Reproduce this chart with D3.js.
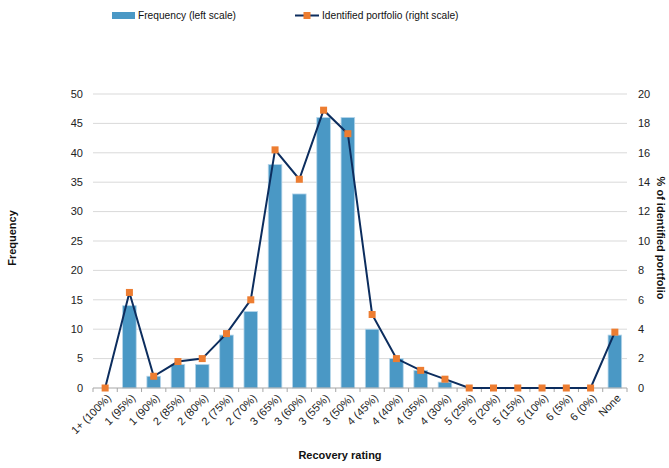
<!DOCTYPE html>
<html><head><meta charset="utf-8">
<script src="https://cdn.jsdelivr.net/npm/d3@7/dist/d3.min.js"></script>
<style>
html,body{margin:0;padding:0;background:#fff;}
svg{display:block;font-family:"Liberation Sans",Arial,sans-serif;}
</style></head>
<body>
<script>
const categories = ["1+ (100%)","1 (95%)","1 (90%)","2 (85%)","2 (80%)","2 (75%)","2 (70%)","3 (65%)","3 (60%)","3 (55%)","3 (50%)","4 (45%)","4 (40%)","4 (35%)","4 (30%)","5 (25%)","5 (20%)","5 (15%)","5 (10%)","6 (5%)","6 (0%)","None"];
const frequency = [0,14,2,4,4,9,13,38,33,46,46,10,5,3,1,0,0,0,0,0,0,9];
const portfolioPct = [0,6.5,0.8,1.8,2.0,3.7,6.0,16.2,14.2,18.9,17.3,5.0,2.0,1.2,0.6,0,0,0,0,0,0,3.8];
const leftTicks = [0,5,10,15,20,25,30,35,40,45,50];
const rightTicks = [0,2,4,6,8,10,12,14,16,18,20];

const W = 669, H = 468;
const m = {left:93, right:42, top:94, bottom:80};
const svg = d3.select("body").append("svg").attr("width",W).attr("height",H);

const x = d3.scaleBand().domain(categories).range([m.left, W-m.right]).paddingInner(0.44).paddingOuter(0.22);
const yL = d3.scaleLinear().domain([0,50]).range([H-m.bottom, m.top]);
const yR = d3.scaleLinear().domain([0,20]).range([H-m.bottom, m.top]);

// gridlines
svg.append("g").selectAll("line").data(leftTicks.filter(d=>d>0)).join("line")
  .attr("x1",m.left).attr("x2",W-m.right)
  .attr("y1",d=>yL(d)).attr("y2",d=>yL(d))
  .attr("stroke","#d9d9d9").attr("stroke-width",1);

// left axis labels
svg.append("g").selectAll("text").data(leftTicks).join("text")
  .attr("x",m.left-10).attr("y",d=>yL(d)).attr("dy","0.35em")
  .attr("text-anchor","end").attr("font-size",11).attr("fill","#222")
  .text(d=>d);
// right axis labels
svg.append("g").selectAll("text").data(rightTicks).join("text")
  .attr("x",W-m.right+11).attr("y",d=>yR(d)).attr("dy","0.35em")
  .attr("text-anchor","start").attr("font-size",11).attr("fill","#222")
  .text(d=>d);

// bars
svg.append("g").selectAll("rect").data(categories).join("rect")
  .attr("x",d=>x(d)).attr("width",x.bandwidth())
  .attr("y",(d,i)=>yL(frequency[i])).attr("height",(d,i)=>yL(0)-yL(frequency[i]))
  .attr("fill","#4a98c5").attr("stroke","#b5d5ea").attr("stroke-width",0.8);

// x axis line and ticks
const base = yL(0);
svg.append("line").attr("x1",m.left).attr("x2",W-m.right).attr("y1",base).attr("y2",base)
  .attr("stroke","#a6a6a6").attr("stroke-width",1);
const step = x.step();
const x0 = x(categories[0]) - x.paddingOuter()*step;
const bounds = d3.range(categories.length+1).map(i=>x0+i*step);
svg.append("g").selectAll("line").data(bounds).join("line")
  .attr("x1",d=>d).attr("x2",d=>d).attr("y1",base).attr("y2",base+4)
  .attr("stroke","#a6a6a6").attr("stroke-width",1);

// line
const cx = d=>x(d)+x.bandwidth()/2;
const line = d3.line().x((d,i)=>cx(categories[i])).y(d=>yR(d));
svg.append("path").datum(portfolioPct).attr("d",line)
  .attr("fill","none").attr("stroke","#0c2d5e").attr("stroke-width",2);
svg.append("g").selectAll("rect").data(portfolioPct).join("rect")
  .attr("x",(d,i)=>cx(categories[i])-3.5).attr("y",d=>yR(d)-3.5)
  .attr("width",7).attr("height",7).attr("fill","#ed7d31");

// x labels
svg.append("g").selectAll("text").data(categories).join("text")
  .attr("transform",d=>`translate(${cx(d)+4},${base+8}) rotate(-45)`)
  .attr("text-anchor","end").attr("dy","0.35em").attr("font-size",11).attr("fill","#222")
  .text(d=>d);

// axis titles
svg.append("text").attr("transform",`translate(16,238) rotate(-90)`)
  .attr("text-anchor","middle").attr("font-size",11).attr("font-weight","bold").attr("fill","#111")
  .text("Frequency");
svg.append("text").attr("transform",`translate(657,238) rotate(90)`)
  .attr("text-anchor","middle").attr("font-size",11).attr("font-weight","bold").attr("fill","#111")
  .text("% of identified portfolio");
svg.append("text").attr("x",340).attr("y",459)
  .attr("text-anchor","middle").attr("font-size",11).attr("font-weight","bold").attr("fill","#111")
  .text("Recovery rating");

// legend
const lg = svg.append("g");
lg.append("rect").attr("x",112).attr("y",12).attr("width",23).attr("height",7).attr("fill","#4a98c5");
lg.append("text").attr("x",138).attr("y",15.5).attr("dy","0.35em").attr("font-size",10.2).attr("fill","#111").text("Frequency (left scale)");
lg.append("line").attr("x1",295).attr("x2",319).attr("y1",15.5).attr("y2",15.5).attr("stroke","#0c2d5e").attr("stroke-width",2);
lg.append("rect").attr("x",303.5).attr("y",12).attr("width",7).attr("height",7).attr("fill","#ed7d31");
lg.append("text").attr("x",322).attr("y",15.5).attr("dy","0.35em").attr("font-size",10.2).attr("fill","#111").text("Identified portfolio (right scale)");
</script>
</body></html>
